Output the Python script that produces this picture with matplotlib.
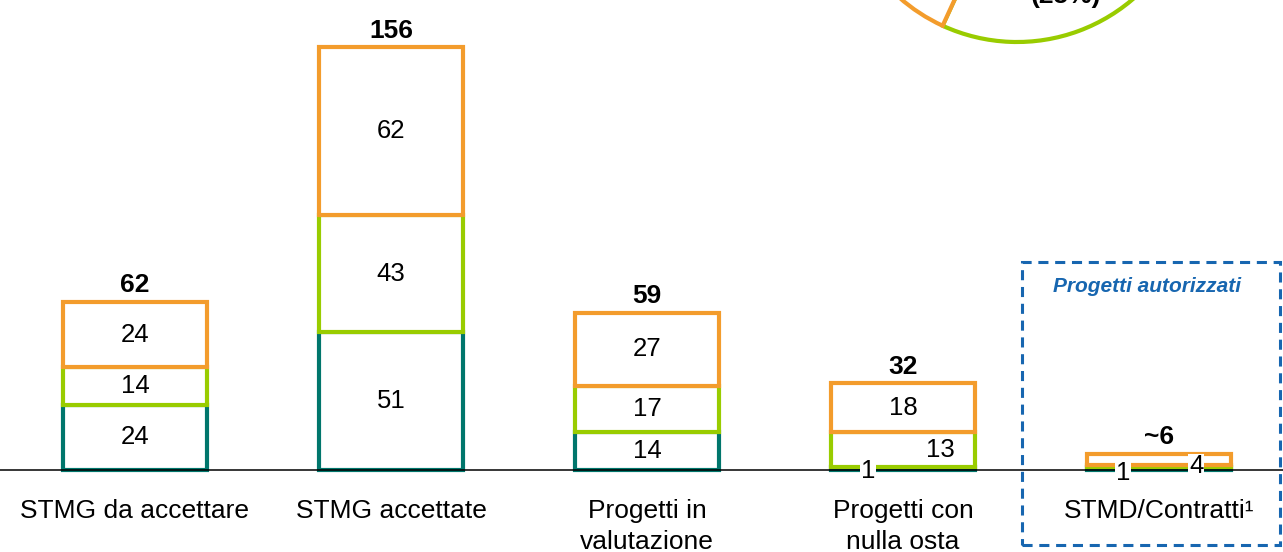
import numpy as np
import matplotlib
matplotlib.use('Agg')
import matplotlib.pyplot as plt
from matplotlib.patches import Rectangle

plt.rcParams['font.family'] = ['Liberation Sans', 'DejaVu Sans']

# Data
categories = ['STMG da accettare', 'STMG accettate', 'Progetti in\nvalutazione',
              'Progetti con\nnulla osta', 'STMD/Contratti¹']
teal_vals   = [24, 51, 14, 1, 1]
green_vals  = [14, 43, 17, 13, 1]
orange_vals = [24, 62, 27, 18, 4]
totals      = ['62', '156', '59', '32', '~6']
pie_shares  = [25, 75]          # green, orange (only bottom of the pie is visible)
pie_label   = '(25%)'

TEAL   = '#00766C'
GREEN  = '#99CC00'
ORANGE = '#F39C2C'
BLUE   = '#1766B0'

W, H = 1283, 552
PX = 2.71   # pixels per unit
fig = plt.figure(figsize=(W / 100, H / 100), dpi=100)
ax = fig.add_axes([0, 0, 1, 1])

x = np.arange(len(categories))
bar_w = 0.56
teal = np.array(teal_vals, dtype=float)
green = np.array(green_vals, dtype=float)
orange = np.array(orange_vals, dtype=float)

seg_kw = dict(width=bar_w, facecolor='white', linewidth=3.0, zorder=2)
ax.bar(x, teal, edgecolor=TEAL, **seg_kw)
ax.bar(x, green, bottom=teal, edgecolor=GREEN, **seg_kw)
ax.bar(x, orange, bottom=teal + green, edgecolor=ORANGE, **seg_kw)

ax.axhline(0, color='black', lw=1.1, zorder=3)

# segment labels (a few nudged where segments are too thin)
nudge = {(3, 0): (-0.137, -0.8), (3, 1): (0.145, 0.0),
         (4, 0): (-0.14, -1.7), (4, 2): (0.145, -2.7)}
hide = {(4, 1)}
box = dict(facecolor='white', edgecolor='none', pad=0.5)
for i in range(len(x)):
    bottoms = [0, teal[i], teal[i] + green[i]]
    for j, vals in enumerate([teal, green, orange]):
        if (i, j) in hide:
            continue
        dx, dy = nudge.get((i, j), (0, 0))
        yc = bottoms[j] + vals[i] / 2 + dy
        kw = {}
        if (i, j) in nudge:
            kw['bbox'] = box
        ax.text(x[i] + dx, yc, f'{vals[i]:g}', ha='center', va='center',
                fontsize=18.5, zorder=5, **kw)
    top = teal[i] + green[i] + orange[i]
    ax.annotate(totals[i], (x[i], top), xytext=(0, 7), textcoords='offset points',
                ha='center', va='baseline', fontsize=19, fontweight='bold')

# category labels under the baseline
for i, cat in enumerate(categories):
    ax.text(x[i], -(499 - 470) / PX, cat, ha='center', va='top',
            fontsize=19, linespacing=1.38)

ax.set_xlim(-135 / 256, (W - 135) / 256)
ax.set_ylim(-82 / PX, 470 / PX)
ax.axis('off')

# dashed box around the authorised projects
fig.patches.append(Rectangle((1022 / W, 7 / H), 258 / W, 283 / H,
                             transform=fig.transFigure, fill=False,
                             edgecolor=BLUE, lw=2.2, linestyle=(0, (3.3, 2.2))))
fig.text(1147 / W, 1 - 287 / H, 'Progetti autorizzati', color=BLUE,
         fontsize=15, fontweight='bold', fontstyle='italic',
         ha='center', va='center')

# partially visible pie at the top right
R = 178
cx, cy = 1017, H + 136
half = R * 1.05
pax = fig.add_axes([(cx - half) / W, (cy - half) / H, 2 * half / W, 2 * half / H])
wedges, _ = pax.pie(pie_shares, colors=['none', 'none'], startangle=245.3,
                    counterclock=True,
                    wedgeprops=dict(linewidth=3.0, facecolor='white'))
wedges[0].set_edgecolor(GREEN)
wedges[1].set_edgecolor(ORANGE)
pax.set_xlim(-1.05, 1.05)
pax.set_ylim(-1.05, 1.05)
pax.set_aspect('auto')
pax.axis('off')
mid = np.deg2rad((wedges[0].theta1 + wedges[0].theta2) / 2)
pax.text(0.79 * np.cos(mid), 0.79 * np.sin(mid), pie_label, ha='center',
         va='center', fontsize=19, fontweight='bold')

fig.savefig('out.png', dpi=100)
